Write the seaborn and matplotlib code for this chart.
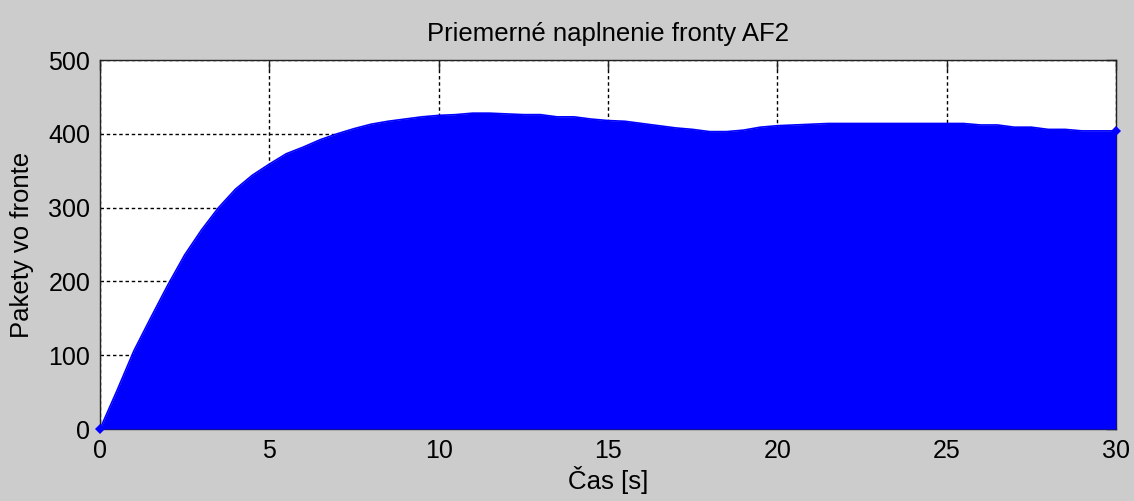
import numpy as np
import pandas as pd
import matplotlib
matplotlib.use("Agg")
import matplotlib.pyplot as plt
import seaborn as sns

# time [s] and average queue fill
cas = [0, 0.5, 1, 1.5, 2, 2.5, 3, 3.5, 4, 4.5, 5, 5.5, 6, 6.5, 7, 7.5, 8, 8.5, 9, 9.5,
       10, 10.5, 11, 11.5, 12, 12.5, 13, 13.5, 14, 14.5, 15, 15.5, 16, 16.5, 17, 17.5,
       18, 18.5, 19, 19.5, 20, 20.5, 21, 21.5, 22, 22.5, 23, 23.5, 24, 24.5, 25, 25.5,
       26, 26.5, 27, 27.5, 28, 28.5, 29, 29.5, 30]
pakety = [0, 52, 106, 151, 195, 236, 270, 300, 325, 344, 359, 373, 382, 392, 400, 407,
          413, 417, 420, 423, 425, 426, 428, 428, 427, 426, 426, 423, 423, 420, 418, 417,
          414, 411, 408, 406, 403, 403, 405, 409, 411, 412, 413, 414, 414, 414, 414, 414,
          414, 414, 414, 414, 412, 412, 409, 409, 406, 406, 404, 404, 404]

x_ticks = [0, 5, 10, 15, 20, 25, 30]
y_ticks = [0, 100, 200, 300, 400, 500]

df = pd.DataFrame({'cas': cas, 'pakety': pakety})

sns.set_style('white')
plt.rcParams['font.family'] = ['Liberation Sans', 'DejaVu Sans']
plt.rcParams['text.color'] = 'black'
plt.rcParams['axes.labelcolor'] = 'black'
plt.rcParams['xtick.color'] = 'black'
plt.rcParams['ytick.color'] = 'black'

fig = plt.figure(figsize=(11.34, 5.01), dpi=100, facecolor='#cccccc')
ax = fig.add_axes([0.0882, 0.1437, 0.8959, 0.7365])
ax.set_facecolor('white')

ax.fill_between(df['cas'], 0, df['pakety'], color='#0000ff', lw=0, zorder=3)
sns.lineplot(data=df, x='cas', y='pakety', ax=ax, color='#0000ff', lw=1.2,
             marker='D', markersize=5, markeredgewidth=0, markevery=[0, len(cas) - 1],
             zorder=4, clip_on=False)

ax.set_xlim(0, 30)
ax.set_ylim(0, 500)
ax.set_xticks(x_ticks)
ax.set_yticks(y_ticks)

# matlab-ish dashed grid
ax.set_axisbelow(True)
ax.grid(True, color='black', linestyle=(0, (2.5, 2)), lw=1.0)

for s in ax.spines.values():
    s.set_visible(True)
    s.set_color('#222222')
    s.set_linewidth(1.0)
ax.tick_params(direction='in', length=7, width=1, color='#222222',
               top=True, right=True, labelsize=18, labelcolor='black', pad=7)

ax.set_title('Priemerné naplnenie fronty AF2', fontsize=18.5, pad=14, color='black')
ax.set_xlabel('Čas [s]', fontsize=18.5, labelpad=2)
ax.set_ylabel('Pakety vo fronte', fontsize=18.5, labelpad=10)

fig.savefig('out.png', dpi=100, facecolor=fig.get_facecolor())
